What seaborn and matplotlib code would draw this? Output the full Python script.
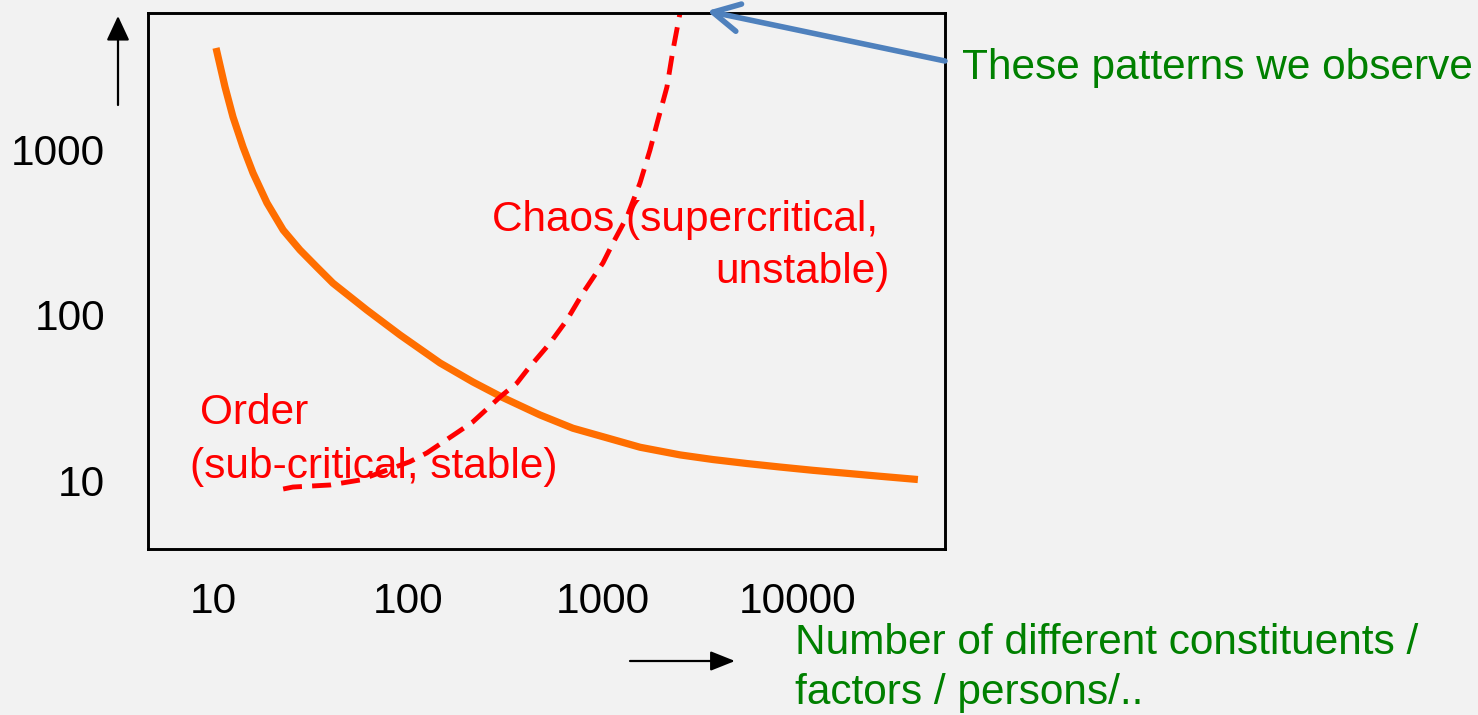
import numpy as np
import pandas as pd
import matplotlib
matplotlib.use("Agg")
import matplotlib.pyplot as plt
import seaborn as sns

# ---- data ----
order_x = [10.36, 11.52, 12.66, 14.25, 16.03, 18.9, 22.9, 27.9, 34.1, 41.2, 61.6, 91, 146,
           215, 303, 475, 701, 1050, 1549, 2484, 3664, 5470, 8080, 11940, 17830, 26330, 41200]
order_y = [4150, 2410, 1585, 1043, 726, 478, 327, 248, 195, 156, 107, 75.7, 51.2,
           39.3, 31.8, 24.8, 20.6, 18.0, 15.8, 14.2, 13.31, 12.59, 11.99, 11.45, 10.98, 10.54, 10.07]

chaos_x = [22.9, 25.7, 39.8, 56.7, 102, 125, 180, 215, 296, 362, 408, 535, 653, 789, 1000,
           1125, 1327, 1548, 1742, 1914, 2128, 2286, 2483, 2570]
chaos_y = [8.82, 9.07, 9.33, 10.0, 12.9, 14.6, 19.5, 22.5, 31.8, 38.7, 46.4, 67.6, 93.3, 136,
           207, 273, 393, 631, 1000, 1520, 2410, 4040, 6760, 9330]

x_ticks = [10, 100, 1000, 10000]
x_tick_labels = ["10", "100", "1000", "10000"]
y_ticks = [10, 100, 1000]
y_tick_labels = ["10", "100", "1000"]

BG = "#F2F2F2"
sns.set_theme(style="white")
plt.rcParams["font.family"] = ["Liberation Sans", "DejaVu Sans"]

W, H = 1478, 715
fig = plt.figure(figsize=(W / 100, H / 100), dpi=100, facecolor=BG)
ax = fig.add_axes([148 / W, (H - 549) / H, (945 - 148) / W, (549 - 13) / H])
ax.set_facecolor(BG)

df_order = pd.DataFrame({"x": order_x, "y": order_y})
df_chaos = pd.DataFrame({"x": chaos_x, "y": chaos_y})

sns.lineplot(data=df_order, x="x", y="y", ax=ax, color="#FF6E00", linewidth=5.2,
             sort=False, estimator=None, solid_joinstyle="round", solid_capstyle="butt")
sns.lineplot(data=df_chaos, x="x", y="y", ax=ax, color="#FF0000", linewidth=3.5,
             sort=False, estimator=None, linestyle=(0, (3.9, 2.1)))

ax.set_xscale("log")
ax.set_yscale("log")
ax.set_xlim(4.64, 56750)
ax.set_ylim(3.82, 6760)
ax.set_xticks(x_ticks)
ax.set_xticklabels(x_tick_labels)
ax.set_yticks(y_ticks)
ax.set_yticklabels(y_tick_labels)
ax.minorticks_off()
ax.tick_params(axis="x", length=0, pad=24, labelsize=30.5, colors="black")
ax.tick_params(axis="y", length=0, pad=31, labelsize=30.5, colors="black")
ax.set_xlabel("")
ax.set_ylabel("")
for s in ax.spines.values():
    s.set_color("black")
    s.set_linewidth(2.1)

# ---- annotations ----
def px(x, y):
    return (x / W, 1 - y / H)

red = "#FF0000"
green = "#008000"
fs = 30.5
fig.text(*px(492, 220), "Chaos (supercritical,", color=red, fontsize=fs, ha="left", va="center")
fig.text(*px(890, 272), "unstable)", color=red, fontsize=fs, ha="right", va="center")
fig.text(*px(200, 413), "Order", color=red, fontsize=fs, ha="left", va="center")
fig.text(*px(190, 467), "(sub-critical, stable)", color=red, fontsize=fs, ha="left", va="center")

fig.text(*px(962, 68), "These patterns we observe", color=green, fontsize=fs, ha="left", va="center")
fig.text(*px(795, 643), "Number of different constituents /", color=green, fontsize=fs,
         ha="left", va="center")
fig.text(*px(795, 693), "factors / persons/..", color=green, fontsize=fs, ha="left", va="center")

# blue arrow
fig.add_artist(matplotlib.patches.FancyArrowPatch(
    px(945, 61), px(707, 11), transform=fig.transFigure,
    arrowstyle="->,head_length=19,head_width=10",
    color="#4F81BD", linewidth=4.0, shrinkA=0, shrinkB=0, mutation_scale=1,
    capstyle="round", joinstyle="round"))
# up arrow
fig.add_artist(matplotlib.patches.FancyArrowPatch(
    px(118, 105), px(118, 16), transform=fig.transFigure, arrowstyle="-|>,head_length=15,head_width=7",
    color="black", linewidth=1.6, shrinkA=0, shrinkB=0, mutation_scale=1))
# right arrow
fig.add_artist(matplotlib.patches.FancyArrowPatch(
    px(630, 661), px(735, 661), transform=fig.transFigure, arrowstyle="-|>,head_length=15,head_width=6",
    color="black", linewidth=1.6, shrinkA=0, shrinkB=0, mutation_scale=1))

fig.savefig("out.png", dpi=100, facecolor=BG)
